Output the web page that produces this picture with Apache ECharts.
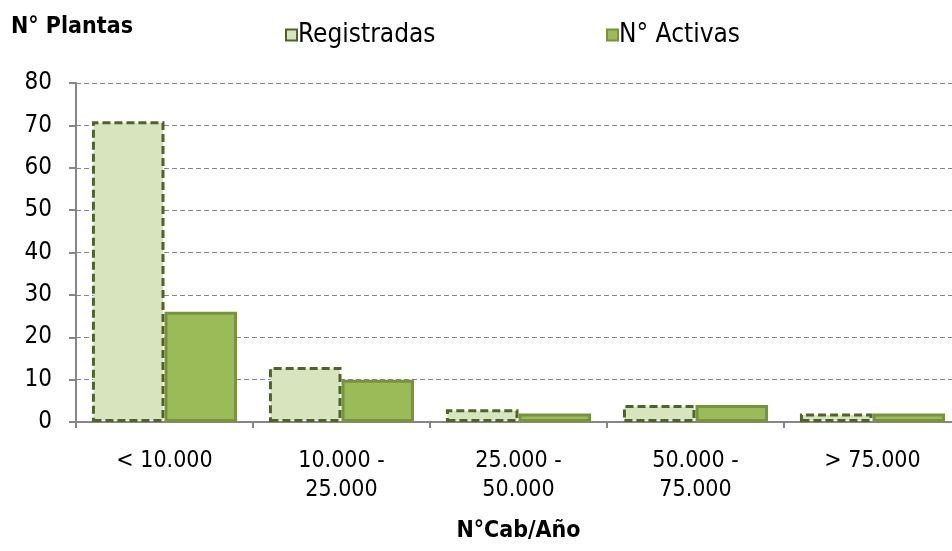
<!DOCTYPE html>
<html>
<head>
<meta charset="utf-8">
<script src="https://cdn.jsdelivr.net/npm/echarts@6/dist/echarts.min.js"></script>
<style>
  html, body { margin: 0; padding: 0; background: #fff; }
  #container { width: 952px; height: 551px; }
</style>
</head>
<body>
<div id="container"></div>
<script>
var categories = ['< 10.000', '10.000 -\n25.000', '25.000 -\n50.000', '50.000 -\n75.000', '> 75.000'];
var registradas = [71, 13, 3, 4, 2];
var activas = [26, 10, 2, 4, 2];
var yTicks = [0, 10, 20, 30, 40, 50, 60, 70, 80];

var dom = document.getElementById('container');
var myChart = echarts.init(dom, null, { renderer: 'canvas' });

var font = 'DejaVu Sans Condensed, DejaVu Sans, sans-serif';

function legendAt(left, name, fill, border) {
  return {
    top: 17,
    left: left,
    icon: 'rect',
    itemWidth: 11,
    itemHeight: 11,
    textStyle: { fontFamily: font, fontSize: 26, color: '#000', padding: [0, 0, 0, -4] },
    data: [{ name: name, itemStyle: { color: fill, borderColor: border, borderWidth: 2 } }]
  };
}

var option = {
  animation: false,
  textStyle: { fontFamily: font },
  title: {
    text: 'N° Plantas',
    left: 6,
    top: 11,
    textStyle: { fontFamily: font, fontSize: 23, fontWeight: 'bold', color: '#000' }
  },
  legend: [
    legendAt(280, 'Registradas', '#D7E4BD', '#4F6228'),
    legendAt(601, 'N° Activas', '#9BBB59', '#77933C')
  ],
  grid: { left: 76, top: 83, width: 885, height: 339, outerBoundsMode: 'none' },
  xAxis: {
    type: 'category',
    data: categories,
    name: 'N°Cab/Año',
    nameLocation: 'middle',
    nameGap: 98,
    nameTextStyle: { fontFamily: font, fontSize: 23, fontWeight: 'bold', color: '#000' },
    axisLine: { lineStyle: { color: '#868686', width: 2 } },
    axisTick: { show: true, length: 6, lineStyle: { color: '#868686', width: 2 } },
    axisLabel: { fontFamily: font, fontSize: 23, color: '#000', margin: 25, lineHeight: 29 }
  },
  yAxis: {
    type: 'value',
    min: yTicks[0],
    max: yTicks[yTicks.length - 1],
    interval: 10,
    axisLine: { show: true, lineStyle: { color: '#868686', width: 2 } },
    axisTick: { show: true, length: 7, lineStyle: { color: '#868686', width: 2 } },
    axisLabel: { fontFamily: font, fontSize: 24, color: '#000', margin: 24 },
    splitLine: { lineStyle: { color: '#868686', type: [5, 3], width: 1 } }
  },
  series: [
    {
      name: 'Registradas',
      type: 'bar',
      data: registradas,
      barGap: '0%',
      barCategoryGap: '18%',
      itemStyle: { color: '#D7E4BD', borderColor: '#4F6228', borderWidth: 3, borderType: [8, 4] }
    },
    {
      name: 'N° Activas',
      type: 'bar',
      data: activas,
      itemStyle: { color: '#9BBB59', borderColor: '#77933C', borderWidth: 3 }
    }
  ]
};

myChart.setOption(option);
window.addEventListener('resize', myChart.resize);
</script>
</body>
</html>
